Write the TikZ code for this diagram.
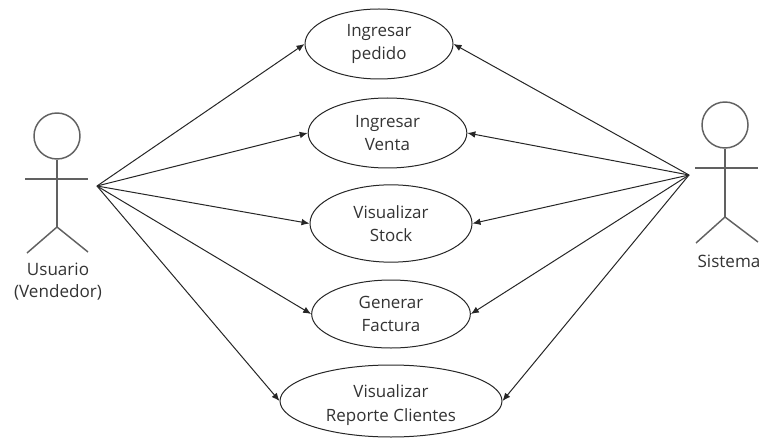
\documentclass[tikz,border=0pt]{standalone}
\usepackage{fontspec}
\setmainfont{Open Sans}
\usetikzlibrary{shapes.geometric}
\usetikzlibrary{arrows.meta}

\begin{document}
\begin{tikzpicture}[x=.75pt,y=-.75pt]
  \tikzstyle{uc}=[draw=black!85, ellipse, line width=.75pt, inner sep=0pt, align=center, font={\fontsize{12.7pt}{17pt}\selectfont}, text=black!80] % use cases
  \tikzstyle{stick}=[draw=black!62, line width=1.1pt] % actors are in gray
  \tikzstyle{lab}=[align=center, text=black!80, font={\fontsize{12.8pt}{17pt}\selectfont}]
  \tikzstyle{link}=[draw=black!85, line width=.75pt, -{Latex[length=6pt,width=5pt]}]
  \useasboundingbox (0,0) rectangle (762,438);
  \node[uc, minimum width=111pt, minimum height=52.5pt] (pedido) at (379,44) {Ingresar\\pedido};
  \node[uc, minimum width=119pt, minimum height=52.5pt] (venta) at (387.5,133) {Ingresar\\Venta};
  \node[uc, minimum width=121.5pt, minimum height=58pt] (stock) at (391,223.5) {Visualizar\\Stock};
  \node[uc, minimum width=119pt, minimum height=51pt] (factura) at (391,314) {Generar\\Factura};
  \node[uc, minimum width=166.5pt, minimum height=54pt] (reporte) at (391,401) {\rule{0pt}{15.6pt}Visualizar\\[1pt]Reporte Clientes};
  % left actor
  \node[stick, circle, minimum size=34.5pt, inner sep=0pt] (headU) at (57,136) {};
  \coordinate (armUa) at (25,179);
  \coordinate (armUb) at (88,179);
  \coordinate (hipU) at (57,227);
  \coordinate (legUa) at (27,253);
  \coordinate (legUb) at (88,252);
  \draw[stick] (headU.south) -- (hipU);
  \draw[stick] (armUa) -- (armUb);
  \draw[stick] (legUa) -- (hipU) -- (legUb);
  \node[lab] (usuario) at (58,281.5) {Usuario\\(Vendedor)};
  % right actor
  \node[stick, circle, minimum size=34.5pt, inner sep=0pt] (headS) at (725,125) {};
  \coordinate (armSa) at (695,168);
  \coordinate (armSb) at (758,168);
  \coordinate (hipS) at (725,217);
  \coordinate (legSa) at (696,243);
  \coordinate (legSb) at (758,242);
  \draw[stick] (headS.south) -- (hipS);
  \draw[stick] (armSa) -- (armSb);
  \draw[stick] (legSa) -- (hipS) -- (legSb);
  \node[lab] (sistema) at (729,261) {Sistema};
  % connectors
  \coordinate (hubU) at (97,186);
  \coordinate (hubS) at (689,175);
  \foreach \uc in {pedido,venta,stock,factura,reporte} {
    \draw[link] (hubU) -- (\uc.west);
    \draw[link] (hubS) -- (\uc.east);
  }
\end{tikzpicture}
\end{document}
